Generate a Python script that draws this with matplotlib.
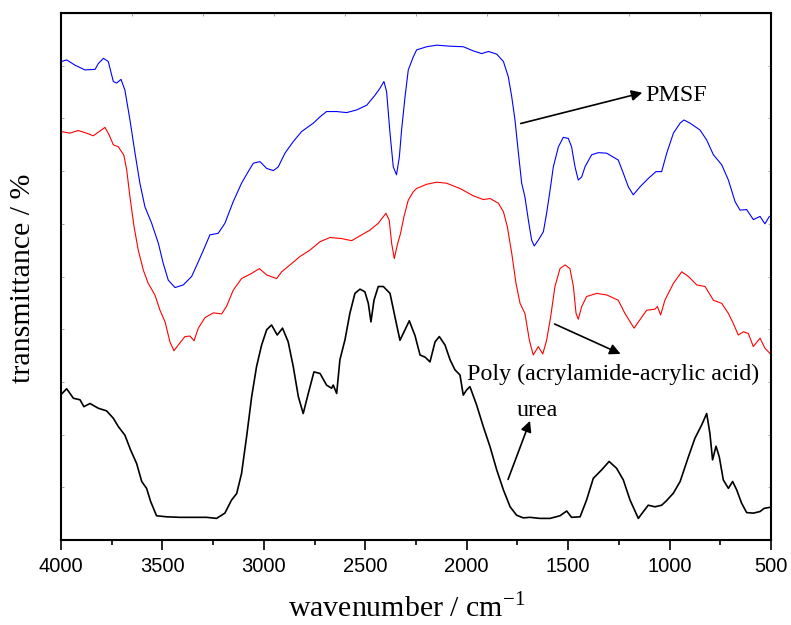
import matplotlib
matplotlib.use("Agg")
from matplotlib import pyplot as plt
import numpy as np

plt.rcParams['font.family'] = ['Liberation Serif', 'DejaVu Serif']
plt.rcParams['mathtext.fontset'] = 'custom'
plt.rcParams['mathtext.rm'] = 'Liberation Serif'

# spectra, wavenumber (cm-1) vs offset transmittance
pmsf_wn = [3997, 3972, 3931, 3882, 3832, 3816, 3791, 3767, 3742, 3726, 3704, 3685, 3660, 3635,
           3611, 3586, 3553, 3520, 3496, 3471, 3438, 3397, 3356, 3323, 3290, 3266, 3225, 3192,
           3151, 3110, 3077, 3052, 3019, 2986, 2953, 2929, 2896, 2855, 2814, 2756, 2723, 2691,
           2641, 2592, 2543, 2493, 2452, 2428, 2408, 2395, 2378, 2362, 2346, 2332, 2321, 2304,
           2288, 2263, 2247, 2197, 2148, 2082, 2017, 1967, 1926, 1893, 1852, 1819, 1795, 1778,
           1762, 1745, 1729, 1713, 1696, 1680, 1667, 1647, 1622, 1606, 1589, 1573, 1548, 1524,
           1499, 1483, 1466, 1450, 1433, 1417, 1384, 1351, 1310, 1253, 1228, 1203, 1179, 1146,
           1105, 1067, 1039, 1014, 981, 948, 929, 899, 850, 817, 784, 743, 710, 677, 653, 620,
           587, 554, 530, 508]
pmsf_t = [90.8, 91.1, 90.1, 89.2, 89.3, 90.4, 91.4, 90.8, 87.0, 86.7, 87.4, 85.4, 79.7, 73.4,
          67.7, 63.2, 60.1, 56.3, 52.5, 49.3, 47.9, 48.4, 50.0, 52.8, 55.7, 57.9, 58.2, 60.1,
          64.2, 67.7, 69.9, 71.5, 71.8, 70.5, 70.1, 70.8, 73.4, 75.6, 77.5, 79.1, 80.3, 81.3,
          81.3, 81.1, 81.6, 82.5, 84.4, 85.7, 87.0, 85.1, 77.2, 70.8, 69.3, 72.7, 77.8, 84.1,
          89.2, 91.7, 93.0, 93.6, 93.9, 93.7, 93.6, 92.8, 92.3, 92.7, 92.2, 90.8, 87.9, 84.1,
          79.7, 73.4, 67.7, 65.1, 60.7, 56.9, 55.8, 56.9, 58.5, 62.0, 66.4, 70.8, 74.6, 76.4,
          76.2, 74.6, 70.8, 68.3, 68.9, 70.8, 73.1, 73.5, 73.4, 72.1, 69.6, 67.0, 65.5, 67.0,
          68.6, 69.9, 69.9, 73.4, 77.2, 79.1, 79.7, 79.1, 77.8, 75.9, 73.1, 71.2, 68.3, 64.2,
          62.6, 62.7, 60.8, 61.4, 60.0, 61.4]

paa_wn = [3997, 3956, 3915, 3874, 3841, 3808, 3783, 3762, 3742, 3717, 3690, 3676, 3660, 3640,
          3619, 3594, 3570, 3537, 3512, 3487, 3463, 3443, 3422, 3389, 3364, 3344, 3323, 3290,
          3249, 3208, 3183, 3151, 3110, 3060, 3022, 2986, 2937, 2912, 2871, 2822, 2773, 2723,
          2674, 2617, 2567, 2518, 2477, 2436, 2398, 2382, 2370, 2357, 2342, 2326, 2309, 2288,
          2263, 2247, 2197, 2148, 2099, 2033, 1967, 1918, 1885, 1844, 1819, 1800, 1778, 1757,
          1737, 1713, 1691, 1672, 1647, 1625, 1606, 1586, 1565, 1540, 1515, 1491, 1474, 1461,
          1450, 1433, 1409, 1359, 1310, 1253, 1220, 1175, 1146, 1113, 1072, 1060, 1044, 1023,
          981, 940, 907, 866, 825, 784, 743, 710, 686, 661, 636, 612, 587, 554, 530, 505]
paa_t = [77.5, 77.2, 77.7, 77.2, 76.7, 77.6, 78.3, 76.8, 75.0, 74.6, 73.0, 70.2, 65.1, 59.5,
         55.0, 51.2, 48.7, 46.5, 43.6, 41.4, 37.6, 35.9, 37.0, 38.6, 38.7, 37.8, 40.2, 42.2,
         43.1, 42.9, 44.4, 47.4, 49.6, 50.6, 51.5, 50.3, 49.6, 50.9, 52.2, 53.8, 55.0, 56.6,
         57.4, 57.2, 56.8, 57.9, 58.8, 60.1, 62.0, 60.7, 56.3, 53.4, 56.0, 58.2, 61.4, 64.5,
         66.1, 66.7, 67.5, 67.9, 67.7, 66.7, 65.3, 64.6, 64.8, 63.9, 62.3, 59.5, 54.4, 48.7,
         44.9, 43.0, 37.9, 35.1, 36.7, 35.3, 37.9, 42.4, 48.1, 51.5, 52.2, 51.5, 48.1, 43.0,
         41.9, 44.3, 46.2, 46.8, 46.5, 45.5, 43.0, 40.2, 41.8, 43.6, 43.8, 44.3, 42.7, 45.5,
         48.7, 50.9, 50.0, 48.4, 48.1, 45.5, 44.9, 43.0, 41.1, 38.9, 39.5, 39.2, 36.7, 38.3,
         36.4, 35.4]

urea_wn = [3997, 3972, 3939, 3906, 3887, 3857, 3816, 3775, 3742, 3717, 3685, 3657, 3627, 3602,
           3578, 3558, 3529, 3479, 3413, 3348, 3282, 3233, 3192, 3159, 3134, 3110, 3085, 3060,
           3036, 3011, 2986, 2962, 2934, 2908, 2880, 2855, 2830, 2806, 2781, 2753, 2723, 2691,
           2666, 2658, 2641, 2625, 2600, 2576, 2551, 2526, 2502, 2485, 2472, 2457, 2436, 2411,
           2378, 2354, 2329, 2304, 2283, 2255, 2230, 2205, 2181, 2156, 2135, 2107, 2082, 2058,
           2033, 2017, 2000, 1984, 1951, 1918, 1885, 1852, 1819, 1786, 1754, 1721, 1688, 1639,
           1589, 1540, 1507, 1483, 1441, 1409, 1376, 1335, 1298, 1261, 1228, 1195, 1154, 1129,
           1105, 1072, 1039, 1014, 981, 948, 907, 875, 842, 817, 801, 788, 771, 755, 735, 710,
           689, 669, 645, 620, 587, 554, 534, 505]
urea_t = [27.7, 28.7, 26.9, 26.6, 25.3, 25.9, 25.0, 24.5, 23.1, 21.5, 19.9, 17.1, 14.5, 11.1,
          9.8, 7.3, 4.6, 4.4, 4.3, 4.3, 4.3, 4.1, 5.1, 7.6, 8.8, 12.6, 19.6, 27.2,
          32.9, 37.0, 39.9, 40.8, 38.9, 40.2, 37.6, 32.9, 27.2, 24.0, 27.8, 31.9, 31.6, 29.4,
          28.8, 29.4, 27.8, 34.2, 38.0, 43.0, 46.8, 47.6, 47.1, 44.9, 41.4, 45.5, 48.1, 48.1,
          46.8, 42.4, 37.9, 39.9, 41.6, 38.8, 35.1, 34.7, 33.8, 37.6, 38.6, 37.0, 34.2, 32.3,
          31.3, 27.5, 28.5, 29.1, 25.6, 21.5, 17.7, 13.3, 9.5, 6.3, 4.7, 4.2, 4.3, 4.1,
          4.1, 4.6, 5.5, 4.3, 4.4, 7.6, 11.7, 13.3, 14.9, 13.6, 11.4, 7.6, 4.1, 5.4,
          6.6, 6.3, 6.6, 7.5, 8.9, 11.1, 15.8, 19.3, 21.8, 24.0, 20.2, 15.2, 17.8, 15.8, 11.4, 9.8,
          11.1, 9.5, 7.0, 5.2, 5.1, 5.4, 6.0, 6.2]

fig = plt.figure(figsize=(7.91, 6.25), dpi=100)
ax = fig.add_axes([0.0771, 0.136, 0.8976, 0.8432])

ax.plot(pmsf_wn, pmsf_t, color='blue', lw=0.8)
ax.plot(paa_wn, paa_t, color='red', lw=0.8)
ax.plot(urea_wn, urea_t, color='black', lw=1.2)

ax.set_xlim(4000, 500)
ax.set_ylim(0, 100)

ax.set_xticks(np.arange(4000, 499, -500))
ax.set_xticks(np.arange(3750, 500, -500), minor=True)
ax.tick_params(axis='x', which='major', direction='out', length=7, width=1.2, pad=5,
               labelsize=14.5, labelfontfamily='Liberation Sans')
ax.tick_params(axis='x', which='minor', direction='out', length=3.5, width=1.2)
ax.set_yticks(np.arange(0, 101, 10))
ax.tick_params(axis='y', which='major', direction='in', length=2.5, width=0.6,
               color='0.6', left=True, right=True, labelleft=False)
for s in ax.spines.values():
    s.set_linewidth(1.5)

top = ax.secondary_xaxis('top')
top.set_xticks(np.arange(4000, 499, -350))
top.tick_params(direction='in', length=2.5, width=0.6, color='0.6', labeltop=False)

arrow = dict(arrowstyle='-|>', color='black', lw=1.2, mutation_scale=16)
ax.annotate('', xy=(1121, 85.0), xytext=(1747, 78.9), arrowprops=arrow)
ax.annotate('', xy=(1229, 35.1), xytext=(1579, 41.2), arrowprops=arrow)
ax.annotate('', xy=(1683, 23.1), xytext=(1801, 11.0), arrowprops=arrow)

ax.text(1121, 83.3, 'PMSF', fontsize=17.3, ha='left', va='baseline')
ax.text(1998, 30.4, 'Poly (acrylamide-acrylic acid)', fontsize=17.3, ha='left', va='baseline')
ax.text(1752, 23.5, 'urea', fontsize=17.3, ha='left', va='baseline')

fig.text(0.5145, 0.027, r'wavenumber / cm$^{\mathrm{-1}}$', fontsize=21.5, ha='center', va='center')
fig.text(0.029, 0.555, 'transmittance / %', fontsize=21.5, ha='center', va='center', rotation=90)

fig.savefig('out.png', dpi=100)
